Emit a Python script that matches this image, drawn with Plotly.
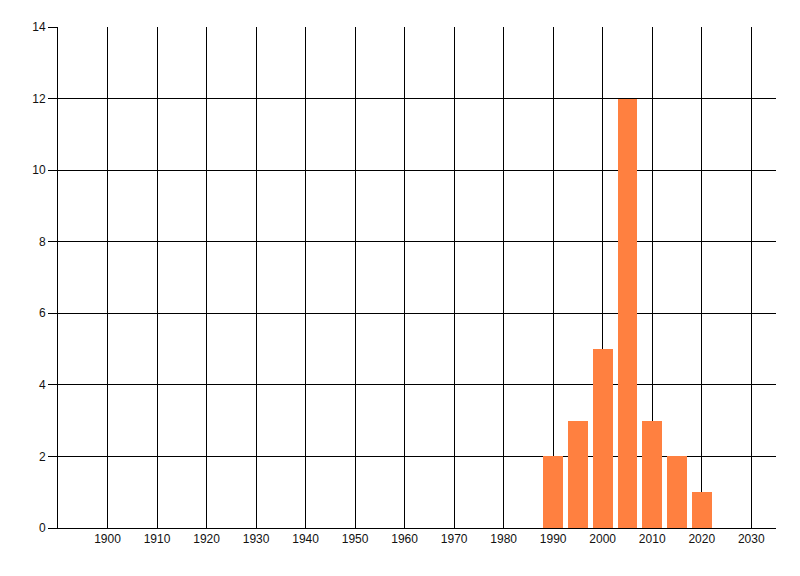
import plotly.graph_objects as go

years = [1990, 1995, 2000, 2005, 2010, 2015, 2020]
counts = [2, 3, 5, 12, 3, 2, 1]
x_ticks = [1900, 1910, 1920, 1930, 1940, 1950, 1960, 1970, 1980, 1990, 2000, 2010, 2020, 2030]
y_ticks = [0, 2, 4, 6, 8, 10, 12, 14]

fig = go.Figure(go.Bar(x=years, y=counts, width=4, marker=dict(color="#FF8040", line=dict(width=0))))

fig.update_layout(
    width=800, height=576,
    margin=dict(l=50, r=32, t=19, b=56),
    paper_bgcolor="white", plot_bgcolor="white",
    font=dict(family="Liberation Sans, Arial, sans-serif", size=12, color="#111"),
    showlegend=False,
    bargap=0,
)
fig.update_xaxes(
    range=[1890, 2035], tickvals=x_ticks, ticktext=[str(v) for v in x_ticks],
    showgrid=True, gridcolor="black", gridwidth=1,
    showline=True, linecolor="black", linewidth=1,
    ticks="", zeroline=False,
)
fig.update_yaxes(
    range=[0, 14], tickvals=y_ticks,
    showgrid=True, gridcolor="black", gridwidth=1,
    showline=True, linecolor="black", linewidth=1,
    ticks="outside", ticklen=9, tickcolor="black", tickwidth=1,
    zeroline=False,
)
fig.write_html("out.html")
